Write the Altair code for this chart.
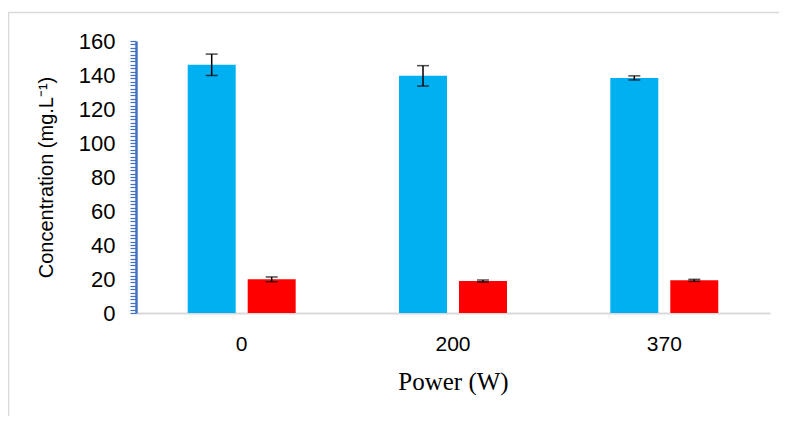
import altair as alt
import pandas as pd

powers = ["0", "200", "370"]
series = ["A", "B"]
blue_vals = [146.0, 139.5, 138.3]
blue_errs = [6.3, 6.0, 1.2]
red_vals = [19.8, 18.8, 19.2]
red_errs = [1.4, 0.6, 0.6]
y_ticks = list(range(0, 161, 2))

rows = []
for i, p in enumerate(powers):
    rows.append({"power": p, "s": "A", "v": blue_vals[i], "e": blue_errs[i]})
    rows.append({"power": p, "s": "B", "v": red_vals[i], "e": red_errs[i]})
df = pd.DataFrame(rows)
df["lo"] = df["v"] - df["e"]
df["hi"] = df["v"] + df["e"]

xscale = alt.Scale(domain=powers, paddingInner=0.489, paddingOuter=0.2447)
xoff = alt.XOffset("s:N", scale=alt.Scale(domain=series, paddingInner=0.2, paddingOuter=0))
yscale = alt.Scale(domain=[0, 160], nice=False)

x_axis = alt.Axis(title="Power (W)", labelAngle=0, ticks=False,
                  domainColor="#d9d9d9", domainWidth=2,
                  labelFont="Liberation Sans", labelFontSize=21,
                  labelColor="#000", labelPadding=20,
                  titleFont="Liberation Serif", titleFontSize=25,
                  titleFontWeight="normal", titleColor="#000",
                  titlePadding=15)

y_axis = alt.Axis(title="Concentration (mg.L⁻¹)", values=y_ticks,
                  labelExpr="datum.value % 20 === 0 ? datum.label : ''",
                  labelOverlap=False, grid=False,
                  domainColor="#4472C4", domainWidth=2.5,
                  tickColor="#4472C4", tickWidth=1.2, tickSize=6,
                  labelFont="Liberation Sans", labelFontSize=22, labelColor="#000",
                  labelPadding=15,
                  titleFont="Liberation Sans", titleFontSize=20,
                  titleFontWeight="normal", titleColor="#000", titlePadding=22)

xn = alt.X("power:N", scale=xscale, sort=powers, axis=x_axis)

base = alt.Chart(df)

bars = base.mark_bar().encode(
    x=xn,
    xOffset=xoff,
    y=alt.Y("v:Q", scale=yscale, axis=y_axis),
    color=alt.Color("s:N", scale=alt.Scale(domain=series, range=["#00B0F0", "#FF0000"]), legend=None),
)

rules = base.mark_rule(color="#000", strokeWidth=1.5).encode(
    x=xn,
    xOffset=xoff,
    y=alt.Y("lo:Q", scale=yscale, axis=y_axis),
    y2="hi:Q",
)

caps_lo = base.mark_tick(color="#000", size=12, thickness=1.5, orient="horizontal").encode(
    x=xn,
    xOffset=xoff,
    y=alt.Y("lo:Q", scale=yscale, axis=y_axis),
)
caps_hi = base.mark_tick(color="#000", size=12, thickness=1.5, orient="horizontal").encode(
    x=xn,
    xOffset=xoff,
    y=alt.Y("hi:Q", scale=yscale, axis=y_axis),
)

frame = alt.Chart(pd.DataFrame({"a": [0]})).mark_rect(
    fill="transparent", stroke="#d9d9d9", strokeWidth=1.5
).encode(
    x=alt.value(-127.5), x2=alt.value(700), y=alt.value(-28.5), y2=alt.value(420)
)

chart = alt.layer(frame, bars, rules, caps_lo, caps_hi).properties(
    width=634, height=272,
    background="#ffffff",
    autosize=alt.AutoSizeParams(type="none"),
    padding={"left": 128, "top": 33, "right": 9, "bottom": 103},
).configure_view(strokeWidth=0, stroke="transparent")

chart.save("out.html", embed_options={"renderer": "svg", "actions": False})
